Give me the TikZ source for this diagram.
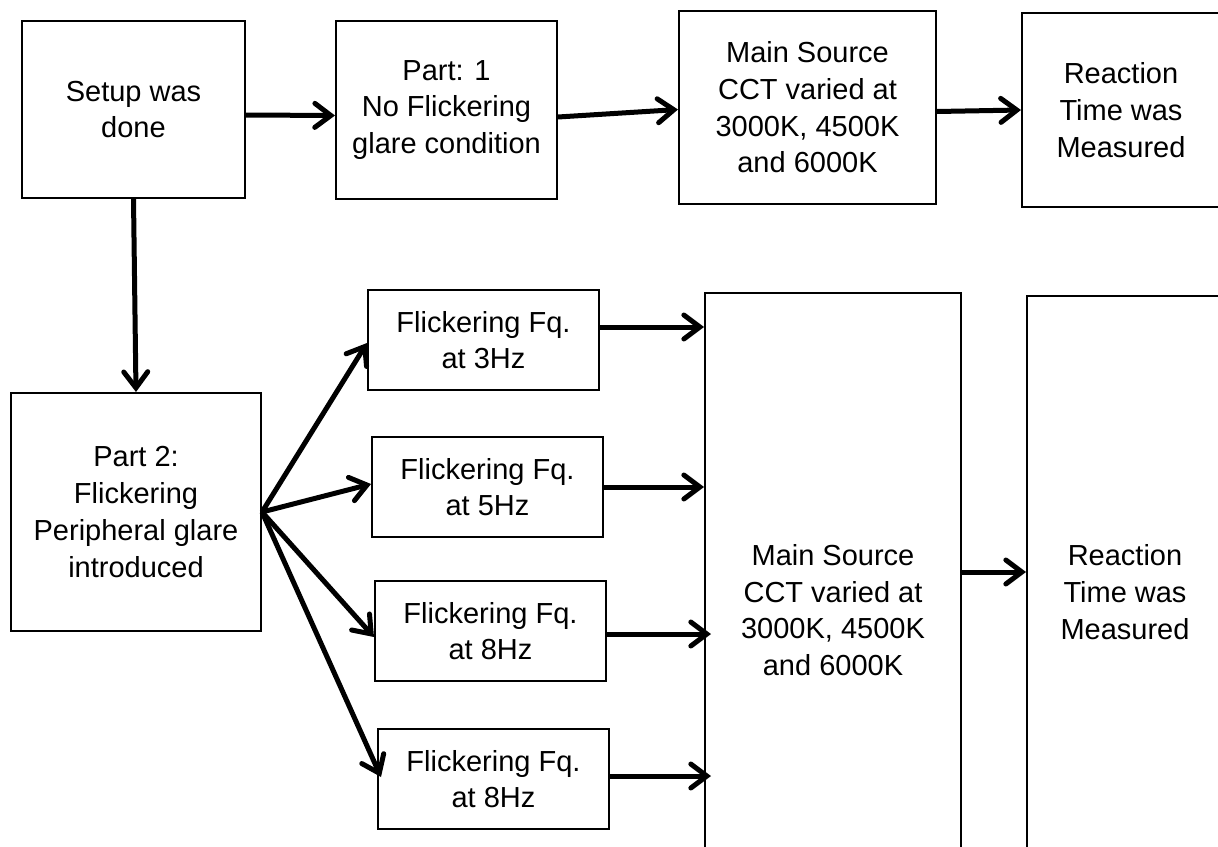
\documentclass[tikz,border=0pt]{standalone}
\usepackage{fontspec}
\setmainfont{Liberation Sans}
\usetikzlibrary{arrows.meta}
\begin{document}
\begin{tikzpicture}[x=0.5pt,y=-0.5pt,
  box/.style={draw=black, line width=1pt, fill=white, inner sep=0pt,
    align=center, font=\fontsize{14.5pt}{18.35pt}\selectfont},
  flow/.style={line width=2.5pt, -{Straight Barb[length=8pt,width=12pt,line cap=round]}}
]
\useasboundingbox (0,0) rectangle (1218,846);

% upper row: part 1
\node[box, minimum width=111.5pt, minimum height=88.5pt] (setup) at (133.5,109.5) {Setup was\\done};
\node[box, minimum width=110.5pt, minimum height=89pt] (part1) at (446.5,110) {Part: 1\\No Flickering\\glare condition};
\node[box, minimum width=128.5pt, minimum height=96.5pt] (src1) at (807.5,107.5) {Main Source\\CCT varied at\\3000K, 4500K\\and 6000K};
\node[box, minimum width=99pt, minimum height=97pt] (rt1) at (1121,110) {Reaction\\Time was\\Measured};

% lower part: part 2
\node[box, minimum width=125pt, minimum height=119pt] (part2) at (136,512) {Part 2:\\Flickering\\Peripheral glare\\introduced};
\node[box, minimum width=115.5pt, minimum height=50pt] (f1) at (483.5,340) {Flickering Fq.\\at 3Hz};
\node[box, minimum width=115.5pt, minimum height=50pt] (f2) at (487.5,487) {Flickering Fq.\\at 5Hz};
\node[box, minimum width=115.5pt, minimum height=50pt] (f3) at (490.5,631) {Flickering Fq.\\at 8Hz};
\node[box, minimum width=115.5pt, minimum height=50pt] (f4) at (493.5,779) {Flickering Fq.\\at 8Hz};
\node[box, minimum width=128pt, minimum height=317pt] (src2) at (833,610) {Main Source\\CCT varied at\\3000K, 4500K\\and 6000K};
\node[box, minimum width=98pt, minimum height=296pt] (rt2) at (1125,592) {Reaction\\Time was\\Measured};

% connectors, upper row
\draw[flow] ([yshift=-2.75pt]setup.east) -- ([yshift=-2.75pt]part1.west);
\draw[flow] ([yshift=-3.5pt]part1.east) -- ([yshift=-1pt]src1.west);
\draw[flow] ([yshift=-2pt]src1.east) -- (rt1.west);

% connectors, lower part
\draw[flow] (setup.south) -- (part2.north);
\draw[flow] (part2.east) -- ([yshift=-1.5pt]f1.west);
\draw[flow] (part2.east) -- ([yshift=1.5pt]f2.west);
\draw[flow] (part2.east) -- ([yshift=-3pt]f3.west);
\draw[flow] (part2.east) -- ([xshift=2pt,yshift=1pt]f4.west);

\draw[flow] ([yshift=6.5pt]f1.east) -- ([yshift=6.5pt]f1.east -| src2.west);
\draw[flow] (f2.east) -- (f2.east -| src2.west);
\draw[flow] ([yshift=-1.5pt]f3.east) -- ([xshift=3.5pt,yshift=-1.5pt]f3.east -| src2.west);
\draw[flow] ([yshift=1.5pt]f4.east) -- ([xshift=3.5pt,yshift=1.5pt]f4.east -| src2.west);

\draw[flow] ([yshift=19pt]src2.east) -- ([yshift=19pt]src2.east -| rt2.west);
\end{tikzpicture}
\end{document}
